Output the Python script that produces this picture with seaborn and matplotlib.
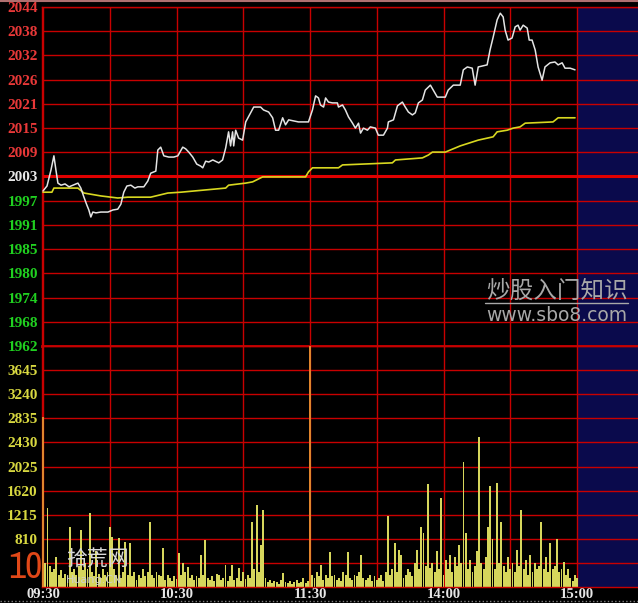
import numpy as np
import pandas as pd
import matplotlib
matplotlib.use('Agg')
import matplotlib.pyplot as plt
from matplotlib.lines import Line2D
from matplotlib import font_manager
import seaborn as sns

# ---------------- data ----------------
price_minutes = [0, 1.8, 3.6, 4.9, 5.8, 6.7, 8.1, 9.9, 11.7, 13.5, 15.7, 17.0, 18.4, 19.7, 20.6, 21.5, 22.4, 23.8,
                 26.0, 29.2, 31.4, 33.6, 35.0, 36.3, 37.7, 39.5, 41.3, 42.6, 45.3, 47.1, 48.4, 50.7, 51.6, 52.9,
                 54.3, 56.5, 58.8, 60.6, 62.8, 64.1, 65.5, 67.3, 69.1, 70.9, 71.8, 73.1, 74.5, 76.3, 79.0, 80.7,
                 82.1, 83.4, 84.3, 85.2, 85.7, 86.6, 87.9, 89.7, 91.1, 93.3, 94.7, 97.8, 99.1, 101.4, 103.2, 104.5,
                 105.9, 107.7, 109.0, 110.4, 114.8, 119.3, 121.1, 122.5, 123.8, 124.7, 126.1, 127.0, 128.3, 130.1,
                 132.3, 132.8, 134.6, 135.9, 137.3, 139.1, 140.4, 141.8, 142.7, 144.0, 145.8, 147.1, 149.4, 150.7,
                 153.0, 154.8, 155.2, 157.5, 159.3, 161.5, 162.8, 164.2, 166.0, 167.3, 168.7, 170.5, 171.8, 174.1,
                 175.4, 177.2, 180.8, 182.1, 184.4, 187.5, 188.9, 190.7, 192.9, 194.2, 195.6, 199.6, 200.9, 202.3,
                 204.1, 205.5, 206.8, 207.7, 209.0, 210.8, 212.2, 213.5, 214.4, 215.8, 217.6, 218.5, 219.8, 221.2,
                 222.5, 224.3, 225.6, 227.9, 230.1, 231.5, 233.3, 234.6, 236.9, 239.1]
price_values = [1999.5, 2000.7, 2004.6, 2008.0, 2004.6, 2001.4, 2000.9, 2001.2, 2000.5, 2000.9, 2001.4, 2000.2,
                1998.0, 1996.1, 1994.9, 1993.2, 1994.4, 1994.2, 1994.4, 1994.4, 1994.9, 1995.1, 1996.3, 1999.2,
                2000.7, 2000.9, 2000.2, 2000.5, 2000.5, 2001.9, 2003.8, 2004.3, 2009.4, 2010.1, 2008.0, 2007.7,
                2007.7, 2008.0, 2010.1, 2009.7, 2008.9, 2007.7, 2006.0, 2005.5, 2005.1, 2006.7, 2006.5, 2007.0,
                2006.3, 2007.0, 2009.9, 2013.8, 2010.4, 2013.8, 2010.4, 2014.2, 2012.3, 2011.8, 2016.2, 2018.4,
                2019.8, 2019.8, 2019.1, 2018.6, 2017.2, 2014.2, 2014.2, 2017.2, 2015.5, 2016.7, 2016.2, 2016.2,
                2019.1, 2022.5, 2022.0, 2020.3, 2019.8, 2022.0, 2021.0, 2020.8, 2020.8, 2019.8, 2020.3, 2019.1,
                2017.4, 2015.9, 2014.7, 2015.9, 2013.5, 2014.7, 2014.2, 2015.0, 2014.7, 2013.0, 2013.0, 2014.7,
                2016.2, 2016.7, 2020.1, 2021.0, 2019.8, 2018.6, 2017.9, 2018.4, 2020.8, 2021.5, 2023.9, 2025.1,
                2023.9, 2022.2, 2022.2, 2023.9, 2025.1, 2025.1, 2028.8, 2029.5, 2029.2, 2025.1, 2029.5, 2030.0,
                2033.6, 2036.7, 2040.9, 2042.5, 2041.6, 2038.4, 2036.0, 2036.5, 2039.2, 2039.6, 2038.4, 2039.6,
                2038.9, 2036.0, 2036.0, 2033.6, 2029.5, 2026.3, 2029.5, 2030.5, 2030.7, 2030.0, 2030.5, 2029.2,
                2029.2, 2028.8]

avg_minutes = [0, 4.0, 4.9, 15.7, 18.4, 26.0, 33.6, 38.1, 48.4, 56.1, 61.9, 82.1, 83.4, 91.1, 94.2, 98.7, 118.0,
               119.3, 121.1, 132.8, 134.6, 157.0, 158.4, 170.5, 173.2, 175.0, 180.8, 187.5, 195.6, 202.3, 204.1,
               208.6, 211.3, 214.4, 216.7, 229.2, 231.5, 239.1]
avg_values = [1999.2, 1999.2, 2000.2, 2000.2, 1999.0, 1998.3, 1997.8, 1998.0, 1998.0, 1999.0, 1999.2, 2000.2,
              2000.9, 2001.4, 2001.7, 2002.9, 2002.9, 2004.1, 2005.1, 2005.1, 2005.8, 2006.3, 2007.0, 2007.5,
              2008.2, 2008.9, 2008.9, 2010.4, 2011.8, 2012.6, 2013.8, 2014.2, 2014.7, 2015.0, 2015.9, 2016.2,
              2017.2, 2017.2]

volume = [2850, 400, 1330, 350, 250, 300, 500, 200, 280, 150,
          220, 180, 1000, 250, 300, 200, 350, 960, 280, 400,
          300, 1240, 250, 180, 600, 220, 150, 300, 200, 250,
          1000, 840, 300, 200, 820, 150, 250, 760, 200, 740,
          180, 250, 120, 200, 150, 300, 180, 250, 1090, 200,
          150, 250, 200, 180, 650, 120, 200, 150, 100, 180,
          130, 570, 200, 400, 250, 340, 150, 200, 120, 180,
          150, 540, 200, 790, 150, 120, 180, 100, 220, 200,
          120, 150, 370, 100, 180, 370, 120, 150, 320, 100,
          250, 130, 200, 150, 1100, 300, 1380, 250, 700, 1300,
          150, 80, 120, 60, 100, 90, 50, 120, 230, 80,
          60, 100, 50, 80, 120, 60, 90, 150, 70, 100,
          4050, 200, 150, 250, 180, 370, 120, 200, 150, 590,
          180, 200, 120, 150, 100, 250, 200, 590, 150, 120,
          200, 180, 250, 540, 150, 120, 150, 200, 100, 180,
          120, 150, 200, 100, 250, 1200, 200, 300, 740, 250,
          620, 540, 150, 200, 300, 250, 180, 400, 620, 300,
          1000, 900, 350, 1730, 320, 400, 250, 600, 300, 1500,
          200, 450, 300, 540, 250, 500, 350, 700, 400, 2100,
          900, 300, 450, 250, 350, 600, 2520, 400, 300, 500,
          1000, 1700, 800, 300, 1750, 400, 1100, 350, 250, 500,
          300, 400, 250, 620, 350, 1300, 300, 450, 200, 540,
          250, 400, 300, 350, 1100, 300, 500, 250, 740, 300,
          350, 800, 250, 300, 420, 200, 300, 150, 100, 200,
          150]
orange_minutes = [0, 120]

price_tick_labels = ["1962", "1968", "1974", "1980", "1985", "1991", "1997", "2003",
                     "2009", "2015", "2021", "2026", "2032", "2038", "2044"]
prev_close = 2003
volume_tick_labels = ["810", "1215", "1620", "2025", "2430", "2835", "3240", "3645"]
time_labels = ["09:30", "", "10:30", "", "11:30", "", "14:00", "", "15:00"]

# ---------------- style ----------------
sns.set_theme(style='dark', rc={'axes.facecolor': 'black', 'figure.facecolor': 'black'})
plt.rcParams['font.family'] = ['Noto Sans CJK SC', 'DejaVu Sans']

W, H = 638, 603
fig = plt.figure(figsize=(W / 100, H / 100), dpi=100)
fig.patch.set_facecolor('black')
ax1 = fig.add_axes([42 / W, 257 / H, 596 / W, 339 / H])
ax2 = fig.add_axes([42 / W, 16 / H, 596 / W, 241 / H])

RED = '#c80000'
XMAX = 267.4
label_font = dict(family='Liberation Serif', weight='bold', size=11)

df_price = pd.DataFrame({'minute': price_minutes, 'price': price_values})
df_avg = pd.DataFrame({'minute': avg_minutes, 'price': avg_values})
df_vol = pd.DataFrame({'minute': np.arange(len(volume)), 'volume': volume})

for ax in (ax1, ax2):
    ax.set_facecolor('black')
    ax.axvspan(240, XMAX, facecolor='#0a0a4c', edgecolor='none', zorder=0)

# volume bars
sns.barplot(data=df_vol, x='minute', y='volume', color='#d6d65c', native_scale=True, width=0.85,
            errorbar=None, linewidth=0, saturation=1, ax=ax2, zorder=2)
for p in ax2.patches:
    cx = p.get_x() + p.get_width() / 2
    if any(abs(cx - m) < 0.3 for m in orange_minutes):
        p.set_facecolor('#e0842c')
        p.set_zorder(3)

# price & average lines
sns.lineplot(data=df_avg, x='minute', y='price', color='#d8d820', lw=1.2, sort=False,
             estimator=None, ax=ax1, zorder=3)
sns.lineplot(data=df_price, x='minute', y='price', color='#e4e4e4', lw=1.1, sort=False,
             estimator=None, ax=ax1, zorder=4)

# axes limits/ticks
ax1.set_xlim(-0.45, XMAX)
ax2.set_xlim(-0.45, XMAX)
ax1.set_ylim(1962, 2044)
ax2.set_ylim(0, 4050)

pticks = np.linspace(1962, 2044, len(price_tick_labels))
ax1.set_yticks(pticks)
ax1.set_yticklabels(price_tick_labels, fontdict=label_font)
for lab, v in zip(ax1.get_yticklabels(), price_tick_labels):
    val = int(v)
    lab.set_color('#e83838' if val > prev_close else ('#e8e8e8' if val == prev_close else '#20d020'))

vticks = [405 * (i + 2) for i in range(len(volume_tick_labels))] + [405, 4050]
ax2.set_yticks(vticks)
ax2.set_yticklabels(volume_tick_labels + ["", ""], fontdict=label_font, color='#d8d840')

xt = list(range(0, 241, 30))
for ax in (ax1, ax2):
    ax.set_xticks(xt)
    ax.grid(True, color=RED, lw=1)
    ax.set_xlabel('')
    ax.set_ylabel('')
    ax.tick_params(length=0, pad=3)
    for s in ax.spines.values():
        s.set_color(RED)
        s.set_linewidth(1)
ax1.set_xticklabels([''] * len(xt))
ax2.set_xticklabels(time_labels, fontdict=dict(family='Liberation Serif', weight='bold', size=10.5),
                    color='#e6e6e6')
ax2.tick_params(axis='x', pad=1)

ax1.axhline(prev_close, color='#e00000', lw=2.2, zorder=2)
ax1.spines['bottom'].set_linewidth(2)
ax1.spines['right'].set_visible(False)
ax2.spines['right'].set_visible(False)

# frame lines of the screenshot
fig.add_artist(Line2D([0, 1], [1 - 1 / H, 1 - 1 / H], transform=fig.transFigure, color='#b07070', lw=1.5))
fig.add_artist(Line2D([0, 1], [2 / H, 2 / H], transform=fig.transFigure, color='#808080', lw=1, ls=':'))

# watermarks
fig.text(557 / W, 1 - 291 / H, '炒股入门知识', color='#a8a8a8', fontsize=17, ha='center', va='center')
fig.add_artist(Line2D([485 / W, 628 / W], [1 - 303 / H, 1 - 303 / H], transform=fig.transFigure,
                      color='#a8a8a8', lw=1))
fig.text(557 / W, 1 - 316 / H, 'www.sbo8.com', color='#a8a8a8', fontsize=13.5, ha='center', va='center',
         family='DejaVu Sans')
narrow = [f.name for f in font_manager.fontManager.ttflist if 'Narrow' in f.name]
logo_family = [narrow[0], 'DejaVu Sans'] if narrow else ['DejaVu Sans']
fig.text(8 / W, 1 - 567 / H, '10', color='#e04818', fontsize=27, fontweight='heavy', ha='left',
         va='center', family=logo_family)
fig.text(97 / W, 1 - 559 / H, '拾荒网', color='#d8d8d8', fontsize=15, ha='center', va='center')
fig.text(94 / W, 1 - 580 / H, 'Huang.CN', color='#d0d0d0', fontsize=8, ha='center', va='center',
         family='DejaVu Sans')

fig.savefig('out.png', dpi=100, facecolor='black')
